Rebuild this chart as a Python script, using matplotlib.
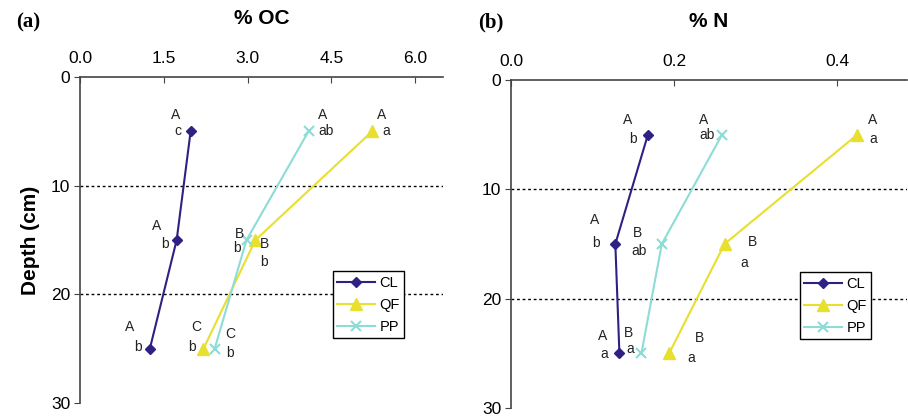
import matplotlib
matplotlib.use("Agg")
import matplotlib.pyplot as plt

plt.rcParams['font.family'] = ['Liberation Sans', 'DejaVu Sans']

depth = [5, 15, 25]
series = ["CL", "QF", "PP"]

oc_cl = [1.98, 1.73, 1.25]
oc_qf = [5.23, 3.14, 2.21]
oc_pp = [4.09, 2.98, 2.41]

n_cl = [0.168, 0.128, 0.133]
n_qf = [0.425, 0.262, 0.194]
n_pp = [0.259, 0.185, 0.160]

# significance letters per point: (upper, lower)
oc_letters = {
    "CL": [("A", "c"), ("A", "b"), ("A", "b")],
    "QF": [("A", "a"), ("B", "b"), ("C", "b")],
    "PP": [("A", "ab"), ("B", "b"), ("C", "b")],
}
n_letters = {
    "CL": [("A", "b"), ("A", "b"), ("A", "a")],
    "QF": [("A", "a"), ("B", "a"), ("B", "a")],
    "PP": [("A", "ab"), ("B", "ab"), ("B", "a")],
}

colors = {"CL": "#2d2184", "QF": "#e8df2e", "PP": "#8edcd6"}
markers = {"CL": "D", "QF": "^", "PP": "x"}
msize = {"CL": 5, "QF": 8, "PP": 7}

# label offsets in pixels from the marker: (dx_upper, dy_upper, dx_lower, dy_lower)
oc_offsets = {
    "CL": [(-15, 16, -13, 0), (-20, 14, -12, -4), (-20, 22, -12, 2)],
    "QF": [(9, 16, 14, 0), (9, -4, 9, -22), (-7, 22, -11, 2)],
    "PP": [(14, 16, 18, 0), (-7, 6, -10, -8), (16, 15, 15, -4)],
}
n_offsets = {
    "CL": [(-20, 15, -15, -4), (-21, 24, -19, 1), (-17, 17, -15, -1)],
    "QF": [(15, 15, 16, -4), (28, 2, 20, -19), (30, 15, 22, -5)],
    "PP": [(-19, 15, -15, 0), (-24, 11, -23, -7), (-13, 20, -11, 4)],
}

fig = plt.figure(figsize=(9.08, 4.16), dpi=100)
ax1 = fig.add_axes([0.0881, 0.031, 0.400, 0.784])
ax2 = fig.add_axes([0.5628, 0.019, 0.4362, 0.789])


def draw_panel(ax, vals, letters, offsets, xlim, xticks, xfmt, title, tag, tag_x, leg_anchor):
    for s, v in zip(series, vals):
        ax.plot(v, depth, color=colors[s], marker=markers[s], ms=msize[s],
                mew=1.5 if s == "PP" else 1, lw=1.5, label=s)
        for i in range(len(depth)):
            up, lo = letters[s][i]
            dxu, dyu, dxl, dyl = offsets[s][i]
            ax.annotate(up, (v[i], depth[i]), xytext=(dxu, dyu), textcoords="offset pixels",
                        ha="center", va="center", fontsize=10, color="#222222")
            ax.annotate(lo, (v[i], depth[i]), xytext=(dxl, dyl), textcoords="offset pixels",
                        ha="center", va="center", fontsize=10, color="#222222")
    for d in [10, 20]:
        ax.axhline(d, color="black", ls=(0, (2, 2)), lw=1, zorder=0)
    ax.set_xlim(*xlim)
    ax.set_ylim(30, 0)
    ax.set_xticks(xticks)
    ax.set_xticklabels([xfmt.format(t) for t in xticks])
    ax.set_yticks([0, 10, 20, 30])
    ax.xaxis.tick_top()
    ax.tick_params(axis="x", direction="in", length=4, labelsize=12.5, pad=8, color="#444444")
    ax.tick_params(axis="y", direction="out", length=4, labelsize=12.5, pad=3, color="#444444")
    for sp in ["right", "bottom"]:
        ax.spines[sp].set_visible(False)
    for sp in ["left", "top"]:
        ax.spines[sp].set_color("#444444")
        ax.spines[sp].set_linewidth(1.2)
    ax.set_xlabel(title, fontsize=15, fontweight="bold", labelpad=19)
    ax.xaxis.set_label_position("top")
    leg = ax.legend(loc="lower right", bbox_to_anchor=leg_anchor, borderaxespad=0,
                    fontsize=10.5, fancybox=False, edgecolor="black", framealpha=1,
                    handlelength=2.6, borderpad=0.3, labelspacing=0.55, handletextpad=0.3)
    leg.get_frame().set_linewidth(1.0)
    fig.text(tag_x, 0.947, tag, fontsize=15, fontweight="bold", family="Liberation Serif",
             ha="center", va="center")


draw_panel(ax1, [oc_cl, oc_qf, oc_pp], oc_letters, oc_offsets, (0, 6.5),
           [0.0, 1.5, 3.0, 4.5, 6.0], "{:.1f}", "% OC", "(a)", 0.031, (0.893, 0.199))
draw_panel(ax2, [n_cl, n_qf, n_pp], n_letters, n_offsets, (0, 0.486),
           [0.0, 0.2, 0.4], "{:.1f}", "% N", "(b)", 0.54, (0.909, 0.21))

ax1.set_ylabel("Depth (cm)", fontsize=15, fontweight="bold", labelpad=8)

fig.savefig("out.png", dpi=100)
